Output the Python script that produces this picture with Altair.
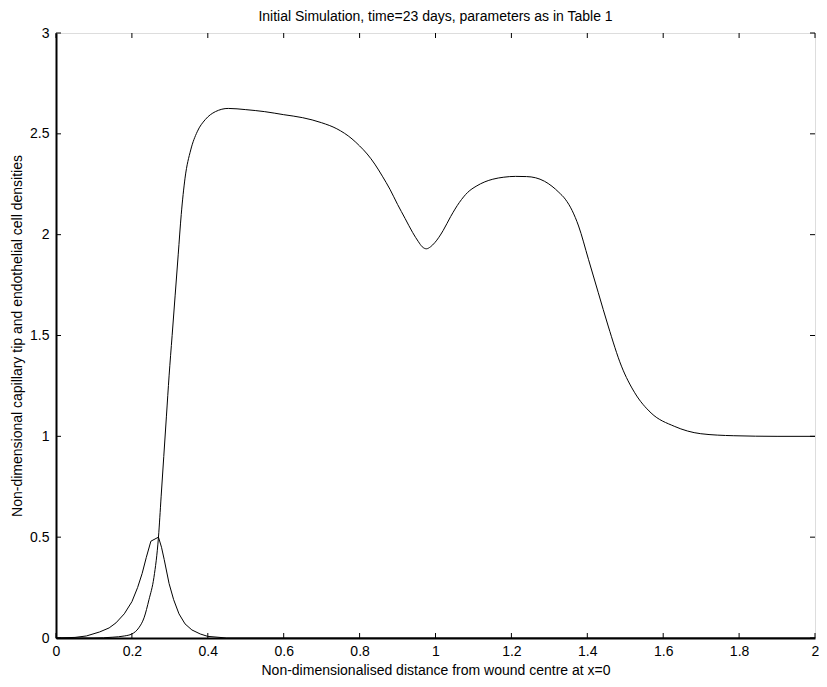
import altair as alt
import pandas as pd

# Big curve (endothelial cell density)
big_x = [0.0, 0.10, 0.15, 0.18, 0.20, 0.218, 0.232, 0.245, 0.258, 0.27, 0.277, 0.284,
         0.291, 0.298, 0.306, 0.314, 0.322, 0.330, 0.340, 0.355, 0.372, 0.393, 0.42,
         0.454, 0.50, 0.55, 0.60, 0.65, 0.70, 0.74, 0.78, 0.80, 0.82, 0.84, 0.86,
         0.88, 0.90, 0.92, 0.94, 0.955, 0.965, 0.976, 0.987, 0.998, 1.020, 1.04,
         1.063, 1.085, 1.107, 1.13, 1.151, 1.18, 1.211, 1.24, 1.264, 1.287, 1.307,
         1.325, 1.342, 1.36, 1.377, 1.403, 1.429, 1.455, 1.490, 1.525, 1.568, 1.629,
         1.699, 1.786, 1.9, 2.0]
big_y = [0.0, 0.0, 0.004, 0.01, 0.02, 0.05, 0.10, 0.19, 0.30, 0.50, 0.70, 0.90,
         1.10, 1.30, 1.50, 1.70, 1.90, 2.10, 2.28, 2.42, 2.51, 2.57, 2.61,
         2.626, 2.62, 2.61, 2.595, 2.58, 2.555, 2.525, 2.475, 2.44, 2.40, 2.35, 2.29,
         2.225, 2.15, 2.08, 2.01, 1.965, 1.94, 1.93, 1.94, 1.96, 2.02, 2.09,
         2.16, 2.21, 2.24, 2.262, 2.275, 2.285, 2.289, 2.288, 2.282, 2.265, 2.24,
         2.21, 2.176, 2.12, 2.043, 1.878, 1.712, 1.547, 1.348, 1.216, 1.116, 1.050,
         1.013, 1.003, 1.0, 1.0]

# Small curve (capillary tip density)
small_x = [0.0, 0.05, 0.08, 0.115, 0.14, 0.158, 0.18, 0.2, 0.215, 0.227, 0.238, 0.25,
           0.27, 0.278, 0.285, 0.298, 0.31, 0.324, 0.34, 0.358, 0.38, 0.40, 0.45, 2.0]
small_y = [0.0, 0.003, 0.01, 0.03, 0.05, 0.075, 0.12, 0.18, 0.25, 0.32, 0.40, 0.48,
           0.50, 0.45, 0.39, 0.27, 0.19, 0.12, 0.07, 0.04, 0.02, 0.008, 0.0, 0.0]

x_ticks = [0, 0.2, 0.4, 0.6, 0.8, 1, 1.2, 1.4, 1.6, 1.8, 2]
y_ticks = [0, 0.5, 1, 1.5, 2, 2.5, 3]

W, H = 759, 605
FONT = "Liberation Sans"

big_df = pd.DataFrame({"x": big_x, "y": big_y})
small_df = pd.DataFrame({"x": small_x, "y": small_y})
xt_df = pd.DataFrame({"x": x_ticks})
yt_df = pd.DataFrame({"y": y_ticks})

xscale = alt.Scale(domain=[0, 2], nice=False, zero=False)
yscale = alt.Scale(domain=[0, 3], nice=False, zero=False)

XT = "Non-dimensionalised distance from wound centre at x=0"
YT = "Non-dimensional capillary tip and endothelial cell densities"

xaxis = alt.Axis(values=x_ticks, format="~g", ticks=False, grid=False,
                 domain=True, domainColor="black", domainWidth=2,
                 labelFont=FONT, labelFontSize=14, labelColor="black", labelPadding=6,
                 title=XT,
                 titleFont=FONT, titleFontSize=14, titleFontWeight="normal",
                 titleColor="black", titlePadding=5, labelFlush=False)
yaxis = alt.Axis(values=y_ticks, format="~g", ticks=False, grid=False,
                 domain=True, domainColor="black", domainWidth=2,
                 labelFont=FONT, labelFontSize=14, labelColor="black", labelPadding=7,
                 title=YT,
                 titleFont=FONT, titleFontSize=14, titleFontWeight="normal",
                 titleColor="black", titlePadding=5, labelFlush=False)

big = alt.Chart(big_df).mark_line(color="black", strokeWidth=1, interpolate="monotone").encode(
    x=alt.X("x:Q", scale=xscale, axis=xaxis, title=XT),
    y=alt.Y("y:Q", scale=yscale, axis=yaxis, title=YT),
)
small = alt.Chart(small_df).mark_line(color="black", strokeWidth=1).encode(
    x=alt.X("x:Q", scale=xscale, axis=xaxis, title=XT),
    y=alt.Y("y:Q", scale=yscale, axis=yaxis, title=YT),
)

tb = alt.Chart(xt_df).mark_rule(color="black", strokeWidth=1).encode(
    x=alt.X("x:Q", scale=xscale, axis=xaxis, title=XT), y=alt.value(H), y2=alt.value(H - 5))
tt = alt.Chart(xt_df).mark_rule(color="black", strokeWidth=1).encode(
    x=alt.X("x:Q", scale=xscale, axis=xaxis, title=XT), y=alt.value(0), y2=alt.value(5))
tl = alt.Chart(yt_df).mark_rule(color="black", strokeWidth=1).encode(
    y=alt.Y("y:Q", scale=yscale, axis=yaxis, title=YT), x=alt.value(0), x2=alt.value(5))
tr = alt.Chart(yt_df).mark_rule(color="black", strokeWidth=1).encode(
    y=alt.Y("y:Q", scale=yscale, axis=yaxis, title=YT), x=alt.value(W), x2=alt.value(W - 5))

chart = alt.layer(big, small, tb, tt, tl, tr).properties(
    width=W, height=H,
    title=alt.TitleParams("Initial Simulation, time=23 days, parameters as in Table 1",
                          font=FONT, fontSize=14, fontWeight="normal", color="black",
                          anchor="middle", offset=2),
    autosize=alt.AutoSizeParams(type="none"),
    padding={"left": 48, "top": 25, "right": 4, "bottom": 40},
).configure_view(stroke="black", strokeWidth=1).configure(background="white")

chart.save("out.html", embed_options={"renderer": "svg", "actions": False})
